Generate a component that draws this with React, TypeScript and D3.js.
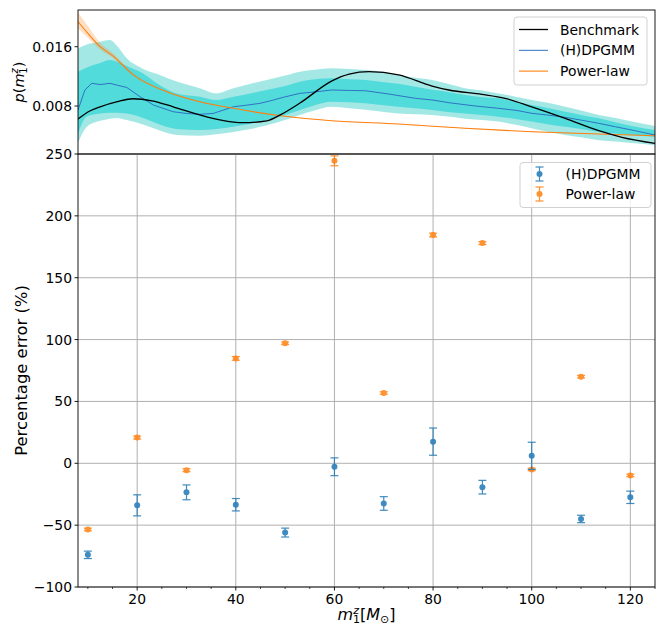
import React from 'react';
import * as d3 from 'd3';

// ---------- data ----------
const benchM = [8, 10, 12.5, 16, 19.2, 23, 27.3, 32.7, 37, 41.5, 46.3, 49, 53, 59.5, 63, 67, 73, 79.8, 83.2, 89.9, 94.6, 100, 106.8, 113.6, 118.3, 125];
const benchP = [0.00625, 0.0072, 0.0079, 0.0086, 0.00898, 0.0087, 0.0079, 0.0068, 0.0061, 0.00575, 0.006, 0.0068, 0.0084, 0.0114, 0.0123, 0.01263, 0.0122, 0.0107, 0.01016, 0.00958, 0.00904, 0.0079, 0.00634, 0.00467, 0.00378, 0.00297];

const plM = [8, 10, 12.5, 15, 19.2, 26, 32.7, 39.5, 49.6, 59.4, 73, 86.5, 100, 113.6, 125];
const plP = [0.01937, 0.0178, 0.016, 0.0148, 0.0122, 0.00993, 0.00858, 0.00769, 0.00665, 0.00602, 0.00557, 0.005, 0.00453, 0.00422, 0.004];
const plLo = [0.0185, 0.0172, 0.0156, 0.0145, 0.0121, 0.0099, 0.00853, 0.00765, 0.00662, 0.006, 0.00555, 0.00498, 0.00451, 0.0042, 0.00398];
const plHi = [0.0206, 0.0188, 0.0165, 0.0152, 0.0124, 0.01, 0.00863, 0.00773, 0.00668, 0.00605, 0.0056, 0.00502, 0.00455, 0.00424, 0.00402];

const dpM = [8, 9.4, 10.8, 12.5, 14.5, 16, 17.9, 20.6, 23.3, 27.3, 30, 32.7, 35.4, 39.5, 42, 44.9, 47, 49.6, 53, 56, 59.4, 63, 66.3, 71, 76.4, 80, 83.2, 88.6, 93.3, 97, 100, 103, 106.8, 110, 113.6, 117, 120.3, 125];
const dpP = [0.00746, 0.01016, 0.01106, 0.0109, 0.01106, 0.0108, 0.0105, 0.00925, 0.00813, 0.00723, 0.007, 0.00688, 0.007, 0.0079, 0.0081, 0.00836, 0.0087, 0.00917, 0.00971, 0.0099, 0.01016, 0.0101, 0.01006, 0.00962, 0.00904, 0.0088, 0.00845, 0.008, 0.00769, 0.0074, 0.00702, 0.0068, 0.00648, 0.0061, 0.00567, 0.0052, 0.00476, 0.00409];

const bandM = [8, 9.8, 12.5, 14.5, 15.8, 17.9, 21.2, 24.6, 28, 32.7, 36, 39.5, 43, 46.3, 50, 53, 56, 59.4, 63, 66.3, 70, 73, 76.4, 79.8, 83, 86.5, 90, 93.3, 96.5, 100, 103.5, 106.8, 110, 113.6, 117, 120.3, 125];
const outerHi = [0.0158, 0.0163, 0.01667, 0.0169, 0.0162, 0.01443, 0.0130, 0.0122, 0.0113, 0.0104, 0.0097, 0.0104, 0.0110, 0.0115, 0.0121, 0.01263, 0.0129, 0.01309, 0.0130, 0.01286, 0.0126, 0.0122, 0.0118, 0.0115, 0.0110, 0.0104, 0.0101, 0.0097, 0.0093, 0.0088, 0.0084, 0.0079, 0.0074, 0.0068, 0.0064, 0.0059, 0.0053];
const outerLo = [0.0030, 0.0052, 0.0060, 0.0063, 0.0064, 0.0061, 0.0055, 0.0047, 0.0041, 0.0040, 0.0042, 0.0045, 0.0049, 0.0054, 0.0061, 0.0068, 0.0074, 0.0079, 0.0077, 0.0075, 0.0072, 0.0070, 0.0069, 0.0068, 0.0066, 0.0063, 0.0061, 0.0059, 0.0055, 0.0050, 0.0045, 0.0041, 0.0038, 0.0034, 0.0032, 0.0030, 0.0027];
const innerHi = [0.01263, 0.0132, 0.0138, 0.0142, 0.0140, 0.0134, 0.0124, 0.0108, 0.0097, 0.00925, 0.0088, 0.00925, 0.0097, 0.01016, 0.0107, 0.01128, 0.0116, 0.01174, 0.0116, 0.0115, 0.0112, 0.0110, 0.0106, 0.0102, 0.0099, 0.00948, 0.0092, 0.00904, 0.0086, 0.00813, 0.0077, 0.00723, 0.0068, 0.00634, 0.0058, 0.0053, 0.00476];
const innerLo = [0.0043, 0.0066, 0.0070, 0.0071, 0.0071, 0.0070, 0.0064, 0.0055, 0.0049, 0.00476, 0.0049, 0.0052, 0.0056, 0.0061, 0.0068, 0.00746, 0.0081, 0.00858, 0.0085, 0.00836, 0.0081, 0.0079, 0.0077, 0.00746, 0.0072, 0.0070, 0.0068, 0.00656, 0.0063, 0.0059, 0.0055, 0.0052, 0.0049, 0.00453, 0.0043, 0.00409, 0.00386];

const errM = [10, 20, 30, 40, 50, 60, 70, 80, 90, 100, 110, 120];
const dpErr = [-74, -34, -23.5, -33.5, -56, -2.8, -32.5, 17.5, -19.3, 6, -45, -27.5];
const dpSig = [3, 8.5, 6, 5, 3.6, 7.2, 5.5, 11, 5.5, 11, 3, 5];
const plErr = [-53.5, 20.8, -5.6, 84.8, 97, 244.5, 56.8, 184.5, 178, -5, 70, -9.8];
const plSig = [1, 1.2, 1.2, 1.5, 1, 4, 1, 1.5, 1.2, 1, 1, 1];

const topTicks = [0.008, 0.016];
const topTickLabels = ['0.008', '0.016'];
const botYTicks = [-100, -50, 0, 50, 100, 150, 200, 250];
const xMajor = [20, 40, 60, 80, 100, 120];
const xMinor = [10, 15, 25, 30, 35, 45, 50, 55, 65, 70, 75, 85, 90, 95, 105, 110, 115, 125];

// ---------- layout ----------
const W = 664, H = 627;
const L = 78, R = 655, T1 = 10, B1 = 154, T2 = 154, B2 = 587;
const FONT = 'DejaVu Sans, sans-serif';
const BLUE = '#1f77b4';
const ORANGE = '#ff7f0e';
const MEDLINE = '#2f72c2';

const x = d3.scaleLinear().domain([8, 125]).range([L, R]);
const yTop = d3.scaleLinear().domain([0.00153, 0.02095]).range([B1, T1]);
const yBot = d3.scaleLinear().domain([-100, 250]).range([B2, T2]);

const fmtMinus = (v: number) => (v < 0 ? '\u2212' + Math.abs(v) : String(v));

function bandPath(ms: number[], lo: number[], hi: number[]) {
  const a = d3.area<number>()
    .x((_, i) => x(ms[i]))
    .y0((_, i) => yTop(lo[i]))
    .y1((_, i) => yTop(hi[i]))
    .curve(d3.curveMonotoneX);
  return a(ms) || '';
}
function linePath(ms: number[], ps: number[], curve: any) {
  const l = d3.line<number>().x((_, i) => x(ms[i])).y((_, i) => yTop(ps[i])).curve(curve);
  return l(ms) || '';
}

function ErrBar({ cx, v, s, color }: { cx: number; v: number; s: number; color: string }) {
  const y0 = yBot(v - s), y1 = yBot(v + s), yc = yBot(v);
  return (
    <g opacity={0.85}>
      <line x1={cx} x2={cx} y1={y0} y2={y1} stroke={color} strokeWidth={1.2} />
      <line x1={cx - 4} x2={cx + 4} y1={y0} y2={y0} stroke={color} strokeWidth={1.2} />
      <line x1={cx - 4} x2={cx + 4} y1={y1} y2={y1} stroke={color} strokeWidth={1.2} />
      <circle cx={cx} cy={yc} r={3} fill={color} />
    </g>
  );
}

export default function App() {
  return (
    <svg width={W} height={H} style={{ position: 'absolute', left: 0, top: 0, background: '#fff' }} fontFamily={FONT}>
      <defs>
        <clipPath id="clipTop"><rect x={L} y={T1} width={R - L} height={B1 - T1} /></clipPath>
        <clipPath id="clipBot"><rect x={L} y={T2} width={R - L} height={B2 - T2} /></clipPath>
      </defs>
      <rect width={W} height={H} fill="#fff" />

      {/* ---------- top panel ---------- */}
      <g clipPath="url(#clipTop)">
        <path d={bandPath(bandM, outerLo, outerHi)} fill="#48D1CC" fillOpacity={0.5} stroke="none" />
        <path d={bandPath(bandM, innerLo, innerHi)} fill="#00CED1" fillOpacity={0.5} stroke="none" />
        <path d={bandPath(plM, plLo, plHi)} fill={ORANGE} fillOpacity={0.25} stroke="none" />
        <path d={linePath(dpM, dpP, d3.curveLinear)} fill="none" stroke={MEDLINE} strokeWidth={1} />
        <path d={linePath(plM, plP, d3.curveMonotoneX)} fill="none" stroke={ORANGE} strokeWidth={1.1} />
        <path d={linePath(benchM, benchP, d3.curveMonotoneX)} fill="none" stroke="#000" strokeWidth={1.3} />
      </g>
      <rect x={L} y={T1} width={R - L} height={B1 - T1} fill="none" stroke="#000" strokeWidth={0.9} />
      {topTicks.map((t, i) => (
        <g key={'tt' + i}>
          <line x1={L - 3.5} x2={L} y1={yTop(t)} y2={yTop(t)} stroke="#000" strokeWidth={0.9} />
          <text x={L - 6} y={yTop(t)} dy="0.36em" textAnchor="end" fontSize={13.9} fill="#000">{topTickLabels[i]}</text>
        </g>
      ))}
      <g transform={`translate(24,${(T1 + B1) / 2}) rotate(-90)`}>
        <text x={0} y={0} textAnchor="middle" fontSize={14.5} fill="#000">
          <tspan fontStyle="italic">p</tspan>(<tspan fontStyle="italic">m</tspan>
          <tspan fontSize={10} fontStyle="italic" dy={-6}>z</tspan>
          <tspan fontSize={10} dx={-5.5} dy={9}>1</tspan>
          <tspan dy={-3}>)</tspan>
        </text>
      </g>
      {/* top legend */}
      <g>
        <rect x={514} y={17} width={133} height={68} rx={3} fill="#fff" fillOpacity={0.8} stroke="#ccc" strokeWidth={0.9} />
        {[
          { label: 'Benchmark', color: '#000', w: 1.3 },
          { label: '(H)DPGMM', color: MEDLINE, w: 1 },
          { label: 'Power-law', color: ORANGE, w: 1.1 },
        ].map((d, i) => (
          <g key={'lg' + i}>
            <line x1={519} x2={548} y1={29.5 + i * 20.8} y2={29.5 + i * 20.8} stroke={d.color} strokeWidth={d.w} />
            <text x={560} y={29.5 + i * 20.8} dy="0.36em" fontSize={13.9} fill="#000">{d.label}</text>
          </g>
        ))}
      </g>

      {/* ---------- bottom panel ---------- */}
      <g>
        {xMajor.map((t) => (
          <line key={'gx' + t} x1={x(t)} x2={x(t)} y1={T2} y2={B2} stroke="#b0b0b0" strokeWidth={1} />
        ))}
        {botYTicks.map((t) => (
          <line key={'gy' + t} x1={L} x2={R} y1={yBot(t)} y2={yBot(t)} stroke="#b0b0b0" strokeWidth={1} />
        ))}
      </g>
      <g clipPath="url(#clipBot)">
        {errM.map((m, i) => (
          <ErrBar key={'pl' + i} cx={x(m)} v={plErr[i]} s={plSig[i]} color={ORANGE} />
        ))}
        {errM.map((m, i) => (
          <ErrBar key={'dp' + i} cx={x(m)} v={dpErr[i]} s={dpSig[i]} color={BLUE} />
        ))}
      </g>
      <rect x={L} y={T2} width={R - L} height={B2 - T2} fill="none" stroke="#000" strokeWidth={0.9} />
      {botYTicks.map((t) => (
        <g key={'yt' + t}>
          <line x1={L - 3.5} x2={L} y1={yBot(t)} y2={yBot(t)} stroke="#000" strokeWidth={0.9} />
          <text x={L - 6} y={yBot(t)} dy="0.36em" textAnchor="end" fontSize={13.9} fill="#000">{fmtMinus(t)}</text>
        </g>
      ))}
      {xMajor.map((t) => (
        <g key={'xt' + t}>
          <line x1={x(t)} x2={x(t)} y1={B2} y2={B2 + 3.5} stroke="#000" strokeWidth={0.9} />
          <text x={x(t)} y={604} textAnchor="middle" fontSize={13.9} fill="#000">{t}</text>
        </g>
      ))}
      {xMinor.map((t) => (
        <line key={'xm' + t} x1={x(t)} x2={x(t)} y1={B2} y2={B2 + 2} stroke="#000" strokeWidth={0.7} />
      ))}
      <text transform={`translate(27,${(T2 + B2) / 2}) rotate(-90)`} textAnchor="middle" fontSize={16.4} fill="#000">Percentage error (%)</text>
      <text x={(L + R) / 2} y={620} textAnchor="middle" fontSize={16} fill="#000">
        <tspan fontStyle="italic">m</tspan>
        <tspan fontSize={11} fontStyle="italic" dy={-6}>z</tspan>
        <tspan fontSize={11} dx={-6} dy={9}>1</tspan>
        <tspan dy={-3}>[</tspan>
        <tspan fontStyle="italic">M</tspan>
        <tspan fontSize={11} dy={3}>{'\u2299'}</tspan>
        <tspan dy={-3}>]</tspan>
      </text>
      {/* bottom legend */}
      <g>
        <rect x={520} y={162.5} width={131} height={45} rx={3} fill="#fff" fillOpacity={0.8} stroke="#ccc" strokeWidth={0.9} />
        {[
          { label: '(H)DPGMM', color: BLUE },
          { label: 'Power-law', color: ORANGE },
        ].map((d, i) => {
          const cy = 174 + i * 20;
          return (
            <g key={'lb' + i}>
              <g opacity={0.85}>
                <line x1={539.5} x2={539.5} y1={cy - 7} y2={cy + 7} stroke={d.color} strokeWidth={1.2} />
                <line x1={535.5} x2={543.5} y1={cy - 7} y2={cy - 7} stroke={d.color} strokeWidth={1.2} />
                <line x1={535.5} x2={543.5} y1={cy + 7} y2={cy + 7} stroke={d.color} strokeWidth={1.2} />
                <circle cx={539.5} cy={cy} r={3} fill={d.color} />
              </g>
              <text x={565.5} y={cy} dy="0.36em" fontSize={13.9} fill="#000">{d.label}</text>
            </g>
          );
        })}
      </g>
    </svg>
  );
}
